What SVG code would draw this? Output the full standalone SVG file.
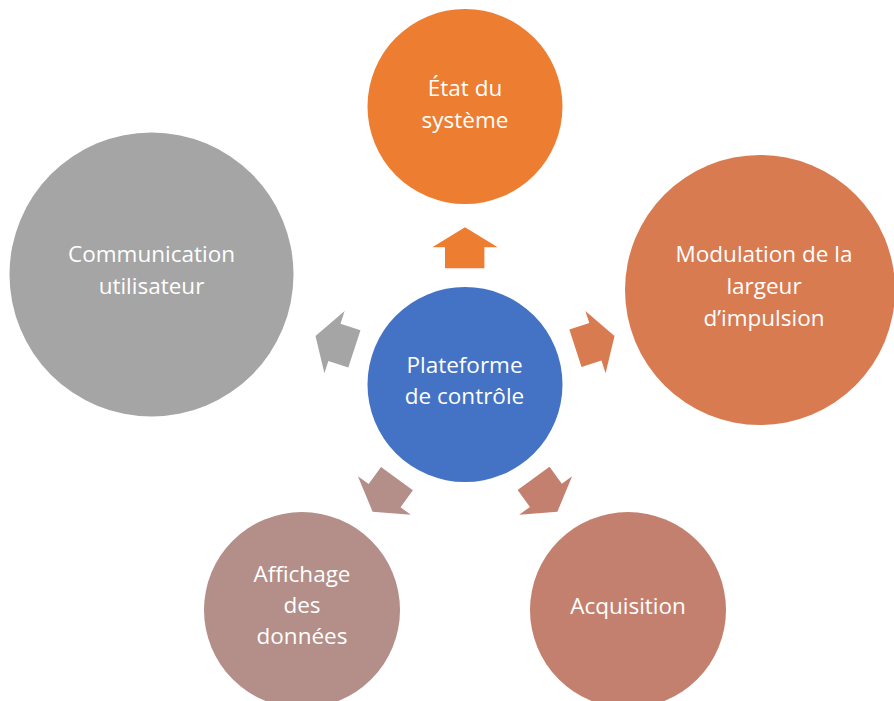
<svg xmlns="http://www.w3.org/2000/svg" xmlns:xlink="http://www.w3.org/1999/xlink" width="894" height="701" viewBox="0 0 894 701">
<style>
text{font-family:"Open Sans","Noto Sans","Liberation Sans",sans-serif;font-size:22.5px;fill:#ffffff;text-anchor:middle}
</style>
<defs>
<path id="arr" d="M465,227.3 L497.7,247.3 L484.4,247.3 L484.4,268.3 L445,268.3 L445,247.3 L432.3,247.3 Z"/>
</defs>
<rect width="894" height="701" fill="#ffffff"/>
<g id="connectors">
<use xlink:href="#arr" fill="#ED7D31"/>
<use xlink:href="#arr" fill="#D97B51" transform="rotate(72 465 384.5)"/>
<use xlink:href="#arr" fill="#C4806F" transform="rotate(144 465 384.5)"/>
<use xlink:href="#arr" fill="#B48E88" transform="rotate(216 465 384.5)"/>
<use xlink:href="#arr" fill="#A5A5A5" transform="rotate(288 465 384.5)"/>
</g>
<g id="etat">
<circle cx="465" cy="106.5" r="97.5" fill="#ED7D31"/>
<text x="465" y="96">État du</text>
<text x="465" y="128">système</text>
</g>
<g id="modulation">
<circle cx="760" cy="290" r="135" fill="#D97B51"/>
<text x="764" y="262">Modulation de la</text>
<text x="764" y="294">largeur</text>
<text x="764" y="326">d’impulsion</text>
</g>
<g id="communication">
<circle cx="151.5" cy="274.5" r="142" fill="#A5A5A5"/>
<text x="151.5" y="262">Communication</text>
<text x="151.5" y="294">utilisateur</text>
</g>
<g id="affichage">
<circle cx="302" cy="610" r="98" fill="#B48E88"/>
<text x="302" y="582">Affichage</text>
<text x="302" y="613">des</text>
<text x="302" y="644">données</text>
</g>
<g id="acquisition">
<circle cx="628" cy="610" r="98" fill="#C4806F"/>
<text x="628" y="614">Acquisition</text>
</g>
<g id="plateforme">
<circle cx="465" cy="384.5" r="97.5" fill="#4472C4"/>
<text x="464.5" y="373">Plateforme</text>
<text x="464.5" y="404">de contrôle</text>
</g>
</svg>
